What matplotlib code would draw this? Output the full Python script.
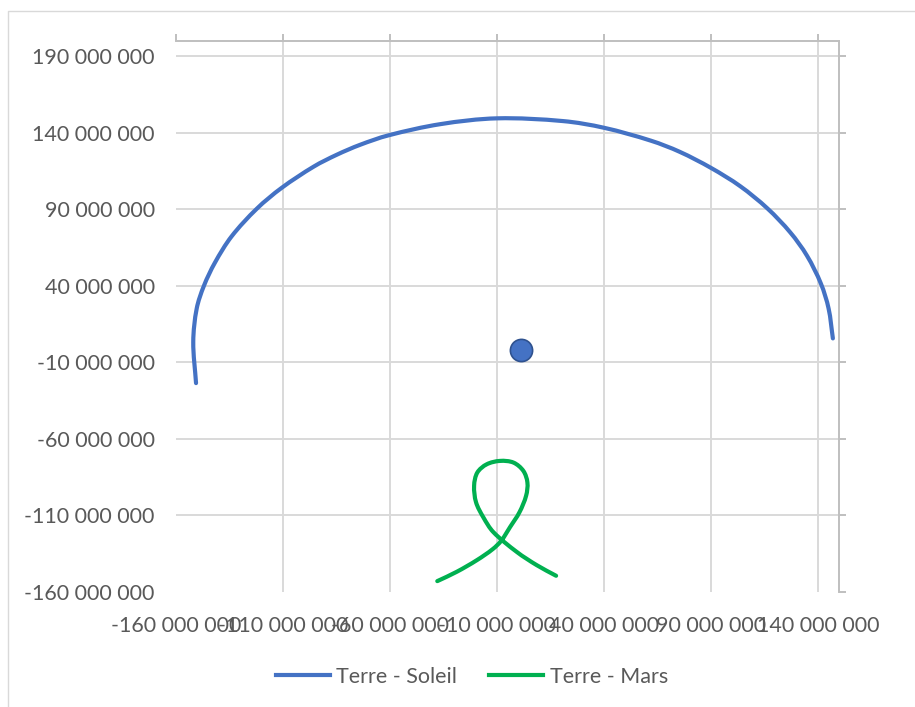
import numpy as np
import matplotlib.pyplot as plt
from matplotlib.ticker import FuncFormatter
from matplotlib.lines import Line2D
from matplotlib.path import Path
from matplotlib.patches import PathPatch

plt.rcParams['font.family'] = ['Lato', 'DejaVu Sans']

# positions relatives (millions de km)
soleil_x = [-150.5, -151.8, -150.2, -146.8, -141.7, -133.9, -122.1, -110.5, -95.5, -84.8,
            -73.9, -60.6, -36.4, -9.9, 21.0, 40.2, 62.0, 75.5, 90.1,
            103.7, 116.4, 127.1, 134.9, 141.4, 145.0, 147.0]
soleil_y = [-23.6, 3.4, 25.0, 40.0, 55.0, 72.2, 90.3, 103.9, 117.8, 125.5,
            132.0, 138.2, 145.5, 149.3, 147.5, 143.1, 134.7, 127.4, 116.9,
            105.0, 90.5, 74.8, 59.6, 41.4, 25.1, 5.6]

mars_x = [-37.8, -28.7, -19.3, -11.9, -7.9, -3.8, 0.6, 3.7, 4.3, 2.4, -2.2,
          -8.5, -14.7, -19.1, -20.6, -19.7, -16.3, -11.6, -0.6, 8.7, 17.7]
mars_y = [-152.9, -146.8, -139.2, -132.0, -126.5, -117.6, -107.9, -97.1, -88.5, -80.9, -75.5,
          -74.4, -76.6, -82.0, -90.6, -101.4, -111.2, -120.9, -133.9, -142.5, -149.4]

terre_x = [1.4]
terre_y = [-2.0]

x_ticks = [-160, -110, -60, -10, 40, 90, 140]
y_ticks = [-160, -110, -60, -10, 40, 90, 140, 190]

M = 1e6
gris_axe = '#bfbfbf'
gris_grille = '#d9d9d9'
gris_texte = '#595959'
bleu = '#4472C4'
vert = '#00B050'
fs = 15.5


def courbe_lissee(ax, xs, ys):
    # ligne lissée passant par les points (tangentes pondérées par la longueur des segments)
    pts = np.column_stack([xs, ys]) * M
    pix = ax.transData.transform(pts)
    n = len(pts)
    d = np.hypot(*np.diff(pix, axis=0).T)
    tang = np.zeros_like(pts)
    for i in range(n):
        if i == 0:
            tang[i] = (pts[1] - pts[0]) / d[0]
        elif i == n - 1:
            tang[i] = (pts[-1] - pts[-2]) / d[-1]
        else:
            tang[i] = (pts[i+1] - pts[i-1]) / (d[i-1] + d[i])
    verts = [pts[0]]
    codes = [Path.MOVETO]
    for i in range(n - 1):
        verts += [pts[i] + tang[i] * d[i] / 3, pts[i+1] - tang[i+1] * d[i] / 3, pts[i+1]]
        codes += [Path.CURVE4] * 3
    return Path(verts, codes)


fig = plt.figure(figsize=(9.15, 7.07), dpi=100)
ax = fig.add_axes([175.7/915, 1-592/707, (839.3-175.7)/915, (592-40.7)/707])

ax.set_xlim(-160*M, 150*M)
ax.set_ylim(-160*M, 200*M)
ax.set_xticks([v*M for v in x_ticks])
ax.set_yticks([v*M for v in y_ticks])

ax.add_patch(PathPatch(courbe_lissee(ax, soleil_x, soleil_y), fill=False, ec=bleu, lw=3,
                       capstyle='round', zorder=3))
ax.add_patch(PathPatch(courbe_lissee(ax, mars_x, mars_y), fill=False, ec=vert, lw=3,
                       capstyle='round', zorder=3))
ax.plot([v*M for v in terre_x], [v*M for v in terre_y], 'o', ms=16, color=bleu,
        mec='#2F528F', mew=1.2, zorder=4)

fmt = FuncFormatter(lambda v, p: '{:,.0f}'.format(v).replace(',', ' '))
ax.xaxis.set_major_formatter(fmt)
ax.yaxis.set_major_formatter(fmt)

# grille, sans la ligne au minimum
ax.grid(True, color=gris_grille, lw=1.4, zorder=0)
ax.xaxis.get_gridlines()[0].set_visible(False)
ax.yaxis.get_gridlines()[0].set_visible(False)

# axes croisés en haut / à droite, étiquettes en bas / à gauche
for s in ['left', 'bottom']:
    ax.spines[s].set_visible(False)
for s in ['top', 'right']:
    ax.spines[s].set_color(gris_axe)
    ax.spines[s].set_linewidth(1.4)
ax.tick_params(axis='x', bottom=False, top=True, labelbottom=True, labeltop=False,
               direction='out', length=5, width=1.4, color=gris_axe, pad=12,
               labelsize=fs, labelcolor=gris_texte)
ax.tick_params(axis='y', left=False, right=True, labelleft=True, labelright=False,
               direction='out', length=5, width=1.4, color=gris_axe, pad=10,
               labelsize=fs, labelcolor=gris_texte)

poignees = [Line2D([], [], color=bleu, lw=3), Line2D([], [], color=vert, lw=3)]
leg = fig.legend(poignees, ['Terre - Soleil', 'Terre - Mars'], loc='center',
                 bbox_to_anchor=(472/915, 1-677/707), ncol=2, frameon=False,
                 fontsize=fs, handlelength=2.5, handletextpad=0.3, columnspacing=1.5)
for t in leg.get_texts():
    t.set_color(gris_texte)

# cadre du graphique
fig.add_artist(Line2D([8/915, 8/915, 1], [0, 1-11/707, 1-11/707], color=gris_grille, lw=1))

fig.savefig('out.png', dpi=100)
